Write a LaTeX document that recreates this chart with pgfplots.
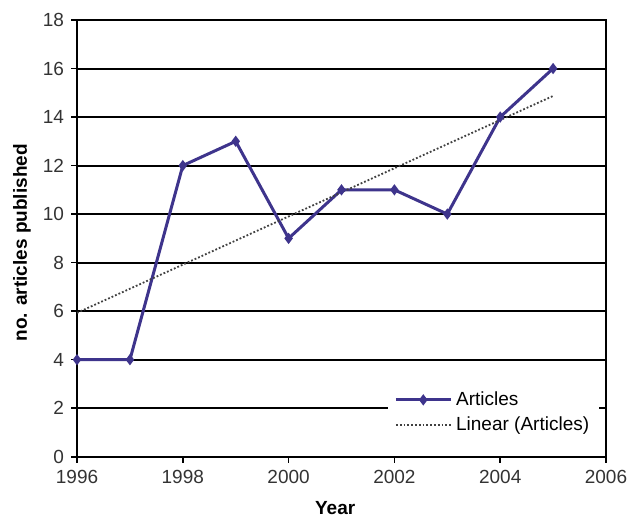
\documentclass[border=0pt]{standalone}
\usepackage{pgfplots}
\pgfplotsset{compat=1.18}
\usepackage{fontspec}
\setmainfont{Liberation Sans}
\definecolor{navyline}{RGB}{62,52,140}
\begin{document}
\begin{tikzpicture}
\begin{axis}[
  scale only axis,
  width=264.4pt, height=218.3pt,
  xmin=1996, xmax=2006, ymin=0, ymax=18,
  xtick={1996,1998,...,2006},
  ytick={0,2,...,18},
  /pgf/number format/assume math mode=true,
  /pgf/number format/set thousands separator={},
  tick label style={font=\fontsize{9.5}{11}\selectfont, text=black!80},
  tick align=outside,
  major tick length=3pt,
  tick style={black, line width=0.8pt},
  xtick pos=bottom, ytick pos=left,
  ymajorgrids,
  grid style={black, line width=1pt},
  axis line style={black, line width=1.2pt},
  xlabel={\textbf{Year}},
  ylabel={\textbf{no. articles published}},
  label style={font=\fontsize{9.5}{11}\selectfont},
  xlabel style={at={(axis description cs:0.488,-0.117)}, anchor=center},
  ylabel style={at={(axis description cs:-0.104,0.49)}, anchor=center, rotate=0},
  legend style={at={(0.588,0.035)}, anchor=south west, draw=none, fill=white,
    font=\fontsize{9.5}{11}\selectfont, row sep=0pt, inner xsep=3pt, inner ysep=2pt},
  legend cell align=left,
  legend image code/.code={\draw[mark repeat=2,mark phase=2,#1] plot coordinates {(0cm,0cm) (0.48cm,0cm) (0.96cm,0cm)};},
]
\addplot[navyline, line width=1.5pt, mark=diamond*, mark size=1.6pt,
  mark options={solid, fill=navyline}] coordinates {
  (1996,4) (1997,4) (1998,12) (1999,13) (2000,9)
  (2001,11) (2002,11) (2003,10) (2004,14) (2005,16)
};
\addlegendentry{Articles}
\addplot[black!75, line width=0.9pt, densely dotted] coordinates {
  (1996,5.93) (2005,14.87)
};
\addlegendentry{Linear (Articles)}
\end{axis}
\pgfresetboundingbox
\path ([shift={(-38.5pt,-30pt)}]current axis.south west) rectangle ([shift={(11pt,10pt)}]current axis.north east);
\end{tikzpicture}
\end{document}
